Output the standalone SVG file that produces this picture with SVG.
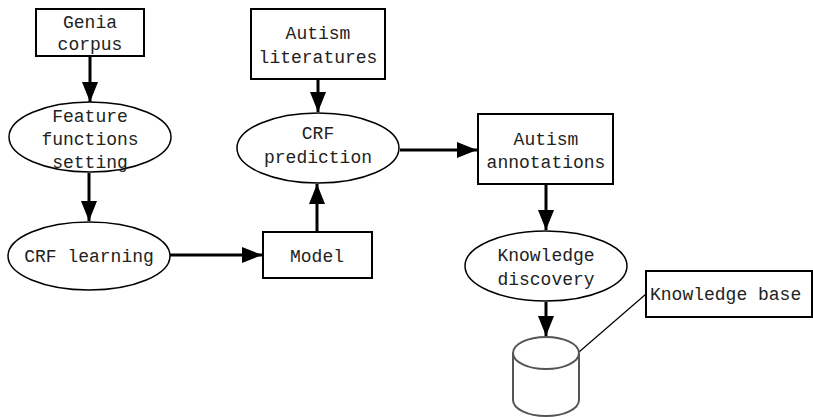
<svg xmlns="http://www.w3.org/2000/svg" width="813" height="417" viewBox="0 0 813 417">
<style>
.box{fill:#fff;stroke:#000;stroke-width:2}
.ell{fill:#fff;stroke:#000;stroke-width:1.5}
.t{font-family:"Liberation Mono","DejaVu Sans Mono",monospace;font-size:18px;fill:#222;text-anchor:middle}
.arr{stroke:#000;stroke-width:3;fill:none}
.cyl{fill:#fff;stroke:#555;stroke-width:2}
</style>
<defs>
<marker id="ah" markerUnits="userSpaceOnUse" markerWidth="20" markerHeight="16" refX="20" refY="8" viewBox="0 0 20 16" orient="auto">
<path d="M0,0 L20,8 L0,16 Z" fill="#000"/>
</marker>
</defs>
<g id="connectors">
<line class="arr" x1="90" y1="56" x2="90" y2="102" marker-end="url(#ah)"/>
<line class="arr" x1="89" y1="173" x2="89" y2="221" marker-end="url(#ah)"/>
<line class="arr" x1="170" y1="255" x2="262" y2="255" marker-end="url(#ah)"/>
<line class="arr" x1="317" y1="232" x2="317" y2="184" marker-end="url(#ah)"/>
<line class="arr" x1="318" y1="79" x2="318" y2="112" marker-end="url(#ah)"/>
<line class="arr" x1="400" y1="150" x2="477" y2="150" marker-end="url(#ah)"/>
<line class="arr" x1="546" y1="184" x2="546" y2="230" marker-end="url(#ah)"/>
<line class="arr" x1="546" y1="302" x2="546" y2="336" marker-end="url(#ah)"/>
<line x1="579" y1="352" x2="646" y2="294" stroke="#000" stroke-width="1.2"/>
</g>
<g id="genia">
<rect class="box" x="36" y="9" width="108" height="47"/>
<text class="t" x="90" y="28">Genia</text>
<text class="t" x="90" y="50">corpus</text>
</g>
<g id="feature">
<ellipse class="ell" cx="90" cy="137" rx="81" ry="35"/>
<text class="t" x="90" y="122">Feature</text>
<text class="t" x="90" y="145">functions</text>
<text class="t" x="90" y="168">setting</text>
</g>
<g id="crf-learning">
<ellipse class="ell" cx="89" cy="256" rx="81" ry="34"/>
<text class="t" x="89" y="262">CRF learning</text>
</g>
<g id="model">
<rect class="box" x="263" y="232" width="109" height="46"/>
<text class="t" x="317" y="262">Model</text>
</g>
<g id="autism-literatures">
<rect class="box" x="251" y="9" width="134" height="70"/>
<text class="t" x="318" y="39">Autism</text>
<text class="t" x="318" y="63">literatures</text>
</g>
<g id="crf-prediction">
<ellipse class="ell" cx="318" cy="148" rx="81" ry="35"/>
<text class="t" x="318" y="139">CRF</text>
<text class="t" x="318" y="163">prediction</text>
</g>
<g id="autism-annotations">
<rect class="box" x="478" y="114" width="135" height="70"/>
<text class="t" x="546" y="145">Autism</text>
<text class="t" x="546" y="168">annotations</text>
</g>
<g id="knowledge-discovery">
<ellipse class="ell" cx="546" cy="266" rx="81" ry="35"/>
<text class="t" x="546" y="261">Knowledge</text>
<text class="t" x="546" y="285">discovery</text>
</g>
<g id="database">
<path class="cyl" d="M513,353 L513,400 A33,16 0 0 0 579,400 L579,353"/>
<ellipse class="cyl" cx="546" cy="353" rx="33" ry="16"/>
</g>
<g id="knowledge-base">
<rect class="box" x="646" y="271" width="166" height="46"/>
<text class="t" x="650" y="300" style="text-anchor:start">Knowledge base</text>
</g>
</svg>
